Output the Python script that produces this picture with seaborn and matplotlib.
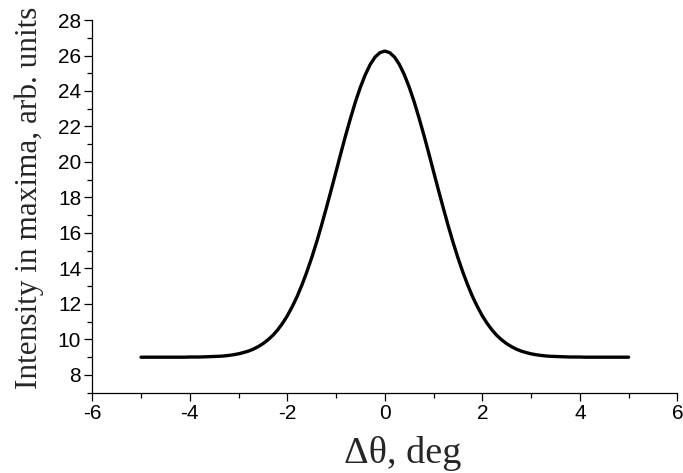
import matplotlib
matplotlib.use("Agg")
import matplotlib.pyplot as plt
import seaborn as sns
import pandas as pd
from matplotlib.ticker import MultipleLocator

# Data
delta_theta = [
    -5.0, -4.9, -4.8, -4.7, -4.6, -4.5, -4.4, -4.3, -4.2, -4.1,
    -4.0, -3.9, -3.8, -3.7, -3.6, -3.5, -3.4, -3.3, -3.2, -3.1,
    -3.0, -2.9, -2.8, -2.7, -2.6, -2.5, -2.4, -2.3, -2.2, -2.1,
    -2.0, -1.9, -1.8, -1.7, -1.6, -1.5, -1.4, -1.3, -1.2, -1.1,
    -1.0, -0.9, -0.8, -0.7, -0.6, -0.5, -0.4, -0.3, -0.2, -0.1,
    0.0,
    0.1, 0.2, 0.3, 0.4, 0.5, 0.6, 0.7, 0.8, 0.9, 1.0,
    1.1, 1.2, 1.3, 1.4, 1.5, 1.6, 1.7, 1.8, 1.9, 2.0,
    2.1, 2.2, 2.3, 2.4, 2.5, 2.6, 2.7, 2.8, 2.9, 3.0,
    3.1, 3.2, 3.3, 3.4, 3.5, 3.6, 3.7, 3.8, 3.9, 4.0,
    4.1, 4.2, 4.3, 4.4, 4.5, 4.6, 4.7, 4.8, 4.9, 5.0,
]
intensity = [
    9.00, 9.00, 9.00, 9.00, 9.00, 9.00, 9.00, 9.00, 9.00, 9.00,
    9.01, 9.01, 9.01, 9.02, 9.03, 9.04, 9.05, 9.07, 9.10, 9.14,
    9.19, 9.26, 9.34, 9.45, 9.59, 9.76, 9.97, 10.22, 10.53, 10.90,
    11.33, 11.84, 12.41, 13.07, 13.80, 14.60, 15.47, 16.41, 17.40, 18.42,
    19.46, 20.51, 21.53, 22.50, 23.41, 24.22, 24.92, 25.49, 25.91, 26.16,
    26.25,
    26.16, 25.91, 25.49, 24.92, 24.22, 23.41, 22.50, 21.53, 20.51, 19.46,
    18.42, 17.40, 16.41, 15.47, 14.60, 13.80, 13.07, 12.41, 11.84, 11.33,
    10.90, 10.53, 10.22, 9.97, 9.76, 9.59, 9.45, 9.34, 9.26, 9.19,
    9.14, 9.10, 9.07, 9.05, 9.04, 9.03, 9.02, 9.01, 9.01, 9.01,
    9.00, 9.00, 9.00, 9.00, 9.00, 9.00, 9.00, 9.00, 9.00, 9.00,
]
x_ticks = [-6, -4, -2, 0, 2, 4, 6]
y_ticks = [8, 10, 12, 14, 16, 18, 20, 22, 24, 26, 28]
x_label = "Δθ, deg"
y_label = "Intensity in maxima, arb. units"

df = pd.DataFrame({"x": delta_theta, "y": intensity})

sns.set_style("ticks")
plt.rcParams["font.family"] = ["Liberation Sans", "DejaVu Sans"]
plt.rcParams["axes.unicode_minus"] = False

fig = plt.figure(figsize=(6.83, 4.73), dpi=100)
ax = fig.add_axes([0.1351, 0.1698, 0.8566, 0.7879])

sns.lineplot(data=df, x="x", y="y", ax=ax, color="black", linewidth=2.4,
             sort=False, estimator=None)

ax.set_xlim(-6, 6)
ax.set_ylim(7, 28)
ax.set_xticks(x_ticks)
ax.set_yticks(y_ticks)
ax.set_xticklabels([str(t) for t in x_ticks])
ax.set_yticklabels([str(t) for t in y_ticks])
ax.xaxis.set_minor_locator(MultipleLocator(1))
ax.yaxis.set_minor_locator(MultipleLocator(1))

for side in ["top", "right"]:
    ax.spines[side].set_visible(False)
for side in ["left", "bottom"]:
    ax.spines[side].set_linewidth(0.9)
    ax.spines[side].set_color("black")

ax.tick_params(axis="both", which="major", direction="out", length=5.5,
               width=0.9, colors="black", labelsize=15, pad=2.5)
ax.tick_params(axis="both", which="minor", direction="out", length=3.5,
               width=0.9, colors="black")

ax.set_xlabel(x_label, fontsize=27.5, family=["Liberation Serif", "DejaVu Serif"])
ax.set_ylabel(y_label, fontsize=22.5, family=["Liberation Serif", "DejaVu Serif"])
ax.xaxis.set_label_coords(0.530, -0.190)
ax.xaxis.label.set_va("baseline")
ax.yaxis.set_label_coords(-0.0826, 0.5224)

ax.grid(False)
fig.savefig("out.png", dpi=100)
